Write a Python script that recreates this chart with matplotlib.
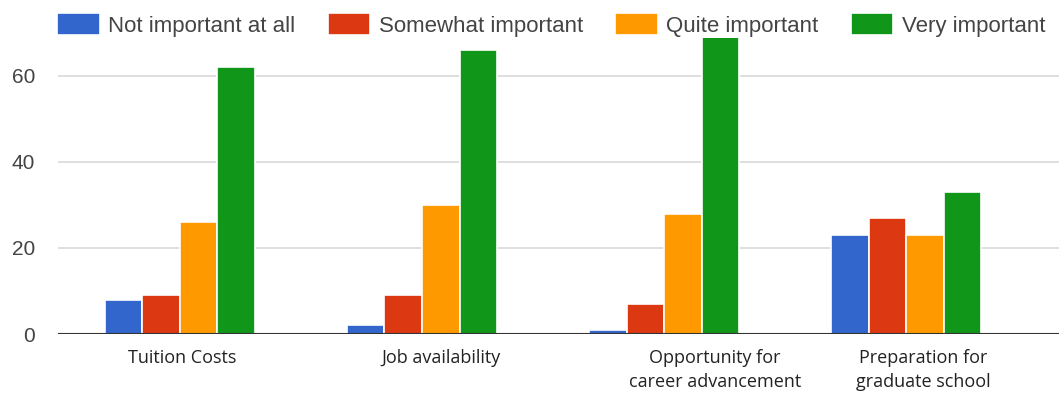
import numpy as np
import matplotlib.pyplot as plt

# Survey responses per factor
categories = ["Tuition Costs", "Job availability",
              "Opportunity for\ncareer advancement", "Preparation for\ngraduate school"]
series = ["Not important at all", "Somewhat important", "Quite important", "Very important"]
not_important = [8, 2, 1, 23]
somewhat_important = [9, 9, 7, 27]
quite_important = [26, 30, 28, 23]
very_important = [62, 66, 69, 33]
# where each category caption sits under its group
label_x = [0.01, 1.08, 2.21, 3.07]

values = [not_important, somewhat_important, quite_important, very_important]
colors = ["#3366cc", "#dc3912", "#ff9900", "#109618"]

fig = plt.figure(figsize=(10.59, 3.97), dpi=100)
ax = fig.add_axes([58 / 1059, 1 - 334 / 397, 1 - 58 / 1059, 296 / 397])

x = np.arange(len(categories))
w = 0.155
for i, (vals, name, c) in enumerate(zip(values, series, colors)):
    ax.bar(x + (i - 1.5) * w, vals, width=w, color=c, label=name,
           edgecolor="white", linewidth=1.2, zorder=3)

ax.set_xlim(-0.504, 3.632)
ax.set_ylim(0, 68.8)
ax.set_yticks([0, 20, 40, 60])
ax.yaxis.grid(True, color="#d9d9d9", linewidth=1.2, zorder=0)
ax.axhline(0, color="#333333", linewidth=1.5, zorder=4)
for s in ax.spines.values():
    s.set_visible(False)
ax.tick_params(axis="y", length=0, pad=16.5, labelsize=15, labelcolor="#444444")
for t in ax.get_yticklabels():
    t.set_fontfamily("Liberation Sans")

ax.set_xticks(label_x)
ax.set_xticklabels(categories, fontsize=13, family="Open Sans", color="#222222",
                   linespacing=1.4)
ax.tick_params(axis="x", length=0, pad=11)

leg = fig.legend(loc="upper left", bbox_to_anchor=(44 / 1059, 1.0), ncol=4, frameon=False,
                 prop={"family": "Liberation Sans", "size": 16},
                 handlelength=1.9, handleheight=1.15, handletextpad=0.4,
                 columnspacing=1.45, borderaxespad=0.2)
for t in leg.get_texts():
    t.set_color("#444444")

fig.savefig("out.png", dpi=100)
